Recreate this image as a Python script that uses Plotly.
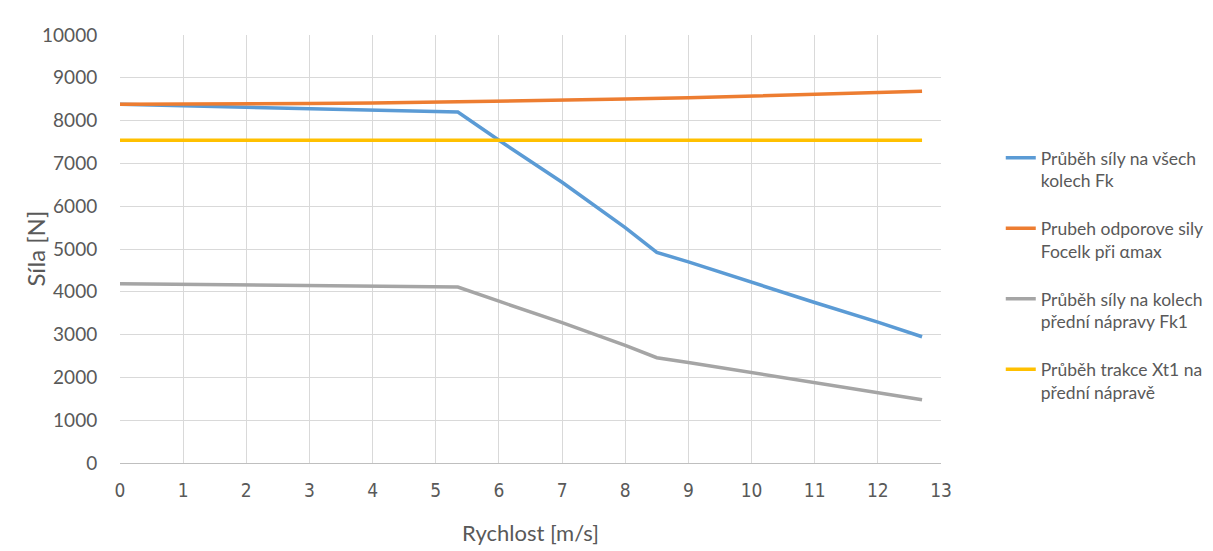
import plotly.graph_objects as go

# rychlost [m/s]
x_fk = [0, 5.35, 6, 7, 8, 8.5, 9, 10, 11, 12, 12.7]
y_fk = [8380, 8200, 7540, 6560, 5500, 4920, 4700, 4220, 3750, 3290, 2950]

x_foc = [0, 1, 2, 3, 4, 5, 6, 7, 8, 9, 10, 11, 12, 12.7]
y_foc = [8380, 8382, 8388, 8397, 8410, 8428, 8448, 8473, 8502, 8534, 8570, 8610, 8654, 8686]

x_fk1 = [0, 5.35, 6, 7, 8, 8.5, 9, 10, 11, 12, 12.7]
y_fk1 = [4190, 4110, 3780, 3280, 2750, 2460, 2350, 2110, 1870, 1640, 1480]

x_xt1 = [0, 12.7]
y_xt1 = [7540, 7540]

names = ["Průběh síly na všech<br>kolech Fk",
         "Prubeh odporove sily<br>Focelk při αmax",
         "Průběh síly na kolech<br>přední nápravy Fk1",
         "Průběh trakce Xt1 na<br>přední nápravě"]
colors = ["#5b9bd5", "#ed7d31", "#a5a5a5", "#ffc000"]

FONT = "Lato, Open Sans, sans-serif"
NARROW = "Liberation Sans Narrow, DejaVu Sans Condensed, Lato, sans-serif"
TXT = "#595959"

fig = go.Figure()
series = [(x_fk, y_fk), (x_foc, y_foc), (x_fk1, y_fk1), (x_xt1, y_xt1)]
for i, (xs, ys) in enumerate(series):
    fig.add_trace(go.Scatter(x=xs, y=ys, mode='lines', name=names[i],
                             legendgroup=str(i),
                             line=dict(color=colors[i], width=3.5)))

fig.update_xaxes(range=[0, 13], dtick=1, showgrid=True, gridcolor="#d9d9d9",
                 zeroline=False, showline=True, linecolor="#bfbfbf",
                 automargin=False,
                 ticks="outside", ticklen=10, tickcolor="rgba(0,0,0,0)",
                 tickfont=dict(family=NARROW, size=19, color=TXT),
                 title=dict(text="Rychlost [m/s]", standoff=25,
                            font=dict(family=FONT, size=22, color=TXT)))
fig.update_yaxes(range=[0, 10000], dtick=1000, tickformat="d",
                 showgrid=True, gridcolor="#d9d9d9",
                 zeroline=False, showline=False, automargin=False,
                 ticks="outside", ticklen=18, tickcolor="rgba(0,0,0,0)",
                 tickfont=dict(family=FONT, size=19, color=TXT))

# y axis title
fig.add_annotation(text="Síla [N]", xref="paper", yref="paper",
                   x=(35 - 120) / 817, y=0.5, xanchor="center", yanchor="middle",
                   showarrow=False, textangle=-90,
                   font=dict(family=FONT, size=24, color=TXT))

# outer chart border
fig.add_shape(type="rect", xref="paper", yref="paper",
              x0=-112 / 817, x1=(1207 - 120) / 817,
              y0=(463 - 560) / 428, y1=(463 - 7) / 428,
              line=dict(color="#d9d9d9", width=1), layer="below")

fig.update_layout(
    width=1213, height=551,
    margin=dict(l=112, r=280, t=27, b=96),
    paper_bgcolor="white", plot_bgcolor="white",
    font=dict(family=FONT, size=17.5, color=TXT),
    legend=dict(x=1.0728, y=0.755, xanchor="left", yanchor="top",
                valign="top", tracegroupgap=22,
                font=dict(family=FONT, size=17.5, color=TXT)),
)

fig.write_html("out.html")
